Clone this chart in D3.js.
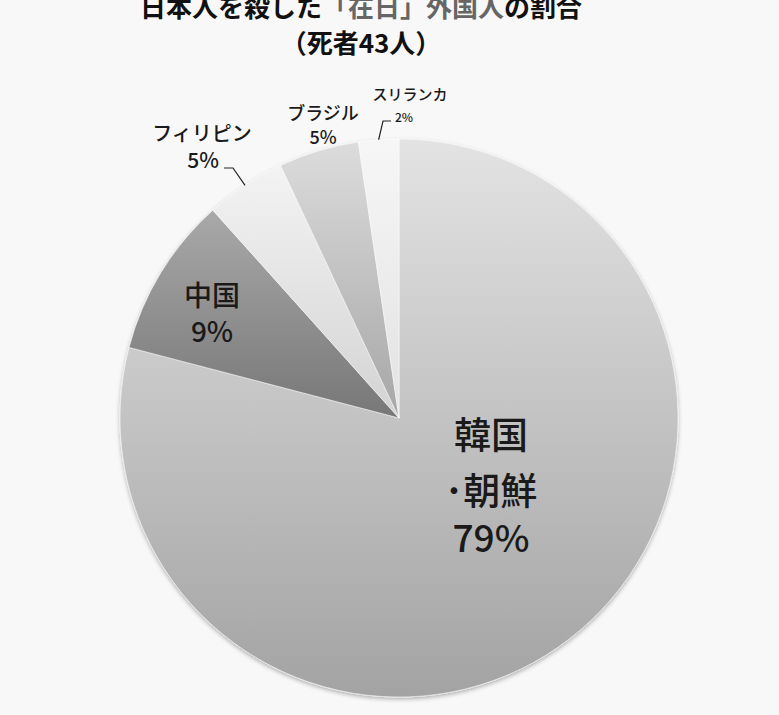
<!DOCTYPE html>
<html>
<head>
<meta charset="utf-8">
<script src="https://cdn.jsdelivr.net/npm/d3@7"></script>
<style>
  html, body { margin: 0; padding: 0; background: #f8f8f8; }
  svg { display: block; font-family: "Noto Sans CJK JP", "Noto Sans", sans-serif; }
</style>
</head>
<body>
<div id="chart"></div>
<script>
// data
var categories = ['韓国・朝鮮', '中国', 'フィリピン', 'ブラジル', 'スリランカ'];
var counts = [34, 4, 2, 2, 1];
var percentLabels = ['79%', '9%', '5%', '5%', '2%'];
var nameLines = [['韓国', '･朝鮮'], ['中国'], ['フィリピン'], ['ブラジル'], ['スリランカ']];

// gradient top / bottom colour for each slice
var topColors = ['#e3e3e3', '#a9a9a9', '#f3f3f3', '#dcdcdc', '#f6f6f6'];
var bottomColors = ['#a3a3a3', '#777777', '#d3d3d3', '#a6a6a6', '#e2e2e2'];

var width = 779, height = 715;
var cx = 399, cy = 418, radius = 279;

var svg = d3.select('#chart').append('svg')
  .attr('width', width)
  .attr('height', height);

svg.append('rect').attr('width', width).attr('height', height).attr('fill', '#f8f8f8');

var defs = svg.append('defs');
categories.forEach(function (c, i) {
  var g = defs.append('linearGradient')
    .attr('id', 'grad' + i)
    .attr('x1', 0).attr('y1', 0).attr('x2', 0).attr('y2', 1);
  g.append('stop').attr('offset', '0%').attr('stop-color', topColors[i]);
  g.append('stop').attr('offset', '100%').attr('stop-color', bottomColors[i]);
});
var shadow = defs.append('filter').attr('id', 'shadow')
  .attr('x', '-10%').attr('y', '-10%').attr('width', '120%').attr('height', '120%');
shadow.append('feDropShadow')
  .attr('dx', 0).attr('dy', 2).attr('stdDeviation', 2)
  .attr('flood-color', '#000').attr('flood-opacity', 0.3);

// title (cut at the top edge, as in the original image)
var title = svg.append('text')
  .attr('x', 361).attr('y', 17)
  .attr('text-anchor', 'middle')
  .attr('font-size', 26).attr('font-weight', 'bold')
  .attr('fill', '#111');
title.append('tspan').text('日本人を殺した');
title.append('tspan').attr('fill', '#666').text('「在日」外国人');
title.append('tspan').text('の割合');

svg.append('text')
  .attr('x', 361).attr('y', 53)
  .attr('text-anchor', 'middle')
  .attr('font-size', 26).attr('font-weight', 'bold')
  .attr('fill', '#111')
  .text('（死者' + d3.sum(counts) + '人）');

// pie
var pie = d3.pie().sort(null).value(function (d) { return d; });
var arcs = pie(counts);
var arc = d3.arc().innerRadius(0).outerRadius(radius);
var edgeArc = d3.arc().innerRadius(radius).outerRadius(radius);

var group = svg.append('g')
  .attr('transform', 'translate(' + cx + ',' + cy + ')');

var slices = group.append('g').attr('filter', 'url(#shadow)');
slices.selectAll('path')
  .data(arcs)
  .enter()
  .append('path')
  .attr('d', arc)
  .attr('fill', function (d, i) { return 'url(#grad' + i + ')'; })
  .attr('stroke', '#ffffff')
  .attr('stroke-opacity', 0.5)
  .attr('stroke-width', 1);

// label layout (relative to pie centre)
var labelLayout = [
  { x: 92, y: 31, size: 37, lineGap: 56, pctGap: 47 },
  { x: -187, y: -112, size: 28, lineGap: 0, pctGap: 36 },
  { x: -197, y: -277, size: 20, lineGap: 0, pctGap: 27, pctX: 1, pctSize: 21, leader: [-175, -250, -166, -250] },
  { x: -76, y: -298, size: 18, lineGap: 0, pctGap: 24 },
  { x: 11, y: -318, size: 15, lineGap: 0, pctGap: 22, pctX: -6, pctSize: 12, leader: [-8, -297, -16, -297] }
];

arcs.forEach(function (d, i) {
  var L = labelLayout[i];
  var y = L.y;
  nameLines[i].forEach(function (line, j) {
    if (j > 0) y += L.lineGap;
    group.append('text')
      .attr('text-anchor', 'middle')
      .attr('x', L.x).attr('y', y)
      .attr('font-size', L.size)
      .attr('font-weight', 500)
      .attr('fill', '#1a1a1a')
      .text(line);
  });
  group.append('text')
    .attr('text-anchor', 'middle')
    .attr('x', L.x + (L.pctX || 0))
    .attr('y', y + L.pctGap)
    .attr('font-size', L.pctSize || L.size)
    .attr('font-weight', 500)
    .attr('fill', '#1a1a1a')
    .text(percentLabels[i]);

  if (L.leader) {
    var p = edgeArc.centroid(d);
    group.append('path')
      .attr('d', d3.line()([[L.leader[0], L.leader[1]], [L.leader[2], L.leader[3]], p]))
      .attr('fill', 'none')
      .attr('stroke', '#222')
      .attr('stroke-width', 1.2);
  }
});
</script>
</body>
</html>
